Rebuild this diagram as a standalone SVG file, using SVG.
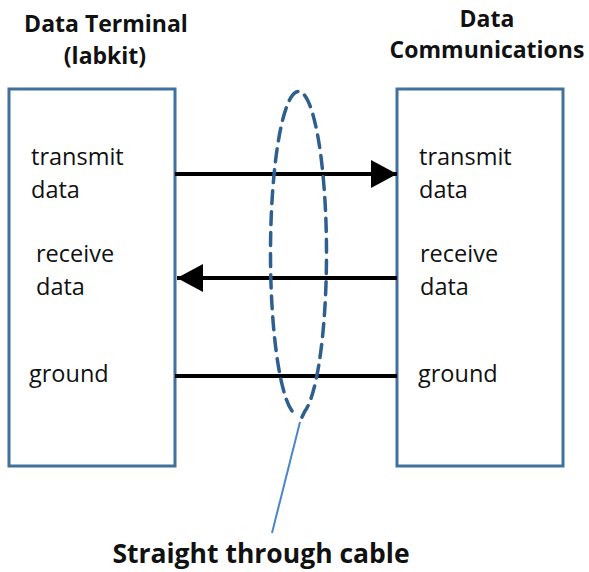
<svg xmlns="http://www.w3.org/2000/svg" width="589" height="572" viewBox="0 0 589 572">
  <style>
    .box { fill: #ffffff; stroke: #41719C; stroke-width: 3; }
    .title { font-family: "Open Sans", "Liberation Sans", sans-serif; font-weight: bold; font-size: 23px; fill: #111111; text-anchor: middle; }
    .label { font-family: "Open Sans", "Liberation Sans", sans-serif; font-size: 23.5px; fill: #111111; }
    .wire { stroke: #000000; stroke-width: 4; fill: none; }
    .cable { stroke: #2F5F8F; stroke-width: 3.5; fill: none; stroke-dasharray: 13 8; stroke-linecap: round; }
    .leader { stroke: #4A86C8; stroke-width: 2; fill: none; }
    .caption { font-family: "Open Sans", "Liberation Sans", sans-serif; font-weight: bold; font-size: 26.5px; fill: #111111; text-anchor: middle; }
  </style>
  <defs>
    <marker id="arrow" markerUnits="userSpaceOnUse" viewBox="0 0 26 28" refX="26" refY="14" markerWidth="26" markerHeight="28" orient="auto">
      <path d="M0,0 L26,14 L0,28 Z" fill="#000000"/>
    </marker>
  </defs>
  <rect width="589" height="572" fill="#ffffff"/>

  <g id="terminal">
    <text class="title" x="106" y="32">Data Terminal</text>
    <text class="title" x="105" y="64">(labkit)</text>
    <rect class="box" x="9" y="89" width="166" height="377"/>
    <text class="label" x="31" y="165">transmit</text>
    <text class="label" x="31" y="198">data</text>
    <text class="label" x="36" y="262">receive</text>
    <text class="label" x="36" y="295">data</text>
    <text class="label" x="29" y="382">ground</text>
  </g>

  <g id="comms">
    <text class="title" x="487" y="27">Data</text>
    <text class="title" x="487" y="58">Communications</text>
    <rect class="box" x="397" y="89" width="166" height="377"/>
    <text class="label" x="419" y="165">transmit</text>
    <text class="label" x="419" y="198">data</text>
    <text class="label" x="420" y="262">receive</text>
    <text class="label" x="420" y="295">data</text>
    <text class="label" x="418" y="382">ground</text>
  </g>

  <g id="connectors">
    <path class="wire" d="M175,174 L397,174" marker-end="url(#arrow)"/>
    <path class="wire" d="M397,278 L177,278" marker-end="url(#arrow)"/>
    <path class="wire" d="M175,376 L397,376"/>
  </g>

  <g id="cable">
    <path class="cable" d="M292,411 A28,162 0 1 1 305,411 L300,421"/>
    <path class="leader" d="M300,422 L272,533"/>
    <text class="caption" x="261" y="563">Straight through cable</text>
  </g>
</svg>
